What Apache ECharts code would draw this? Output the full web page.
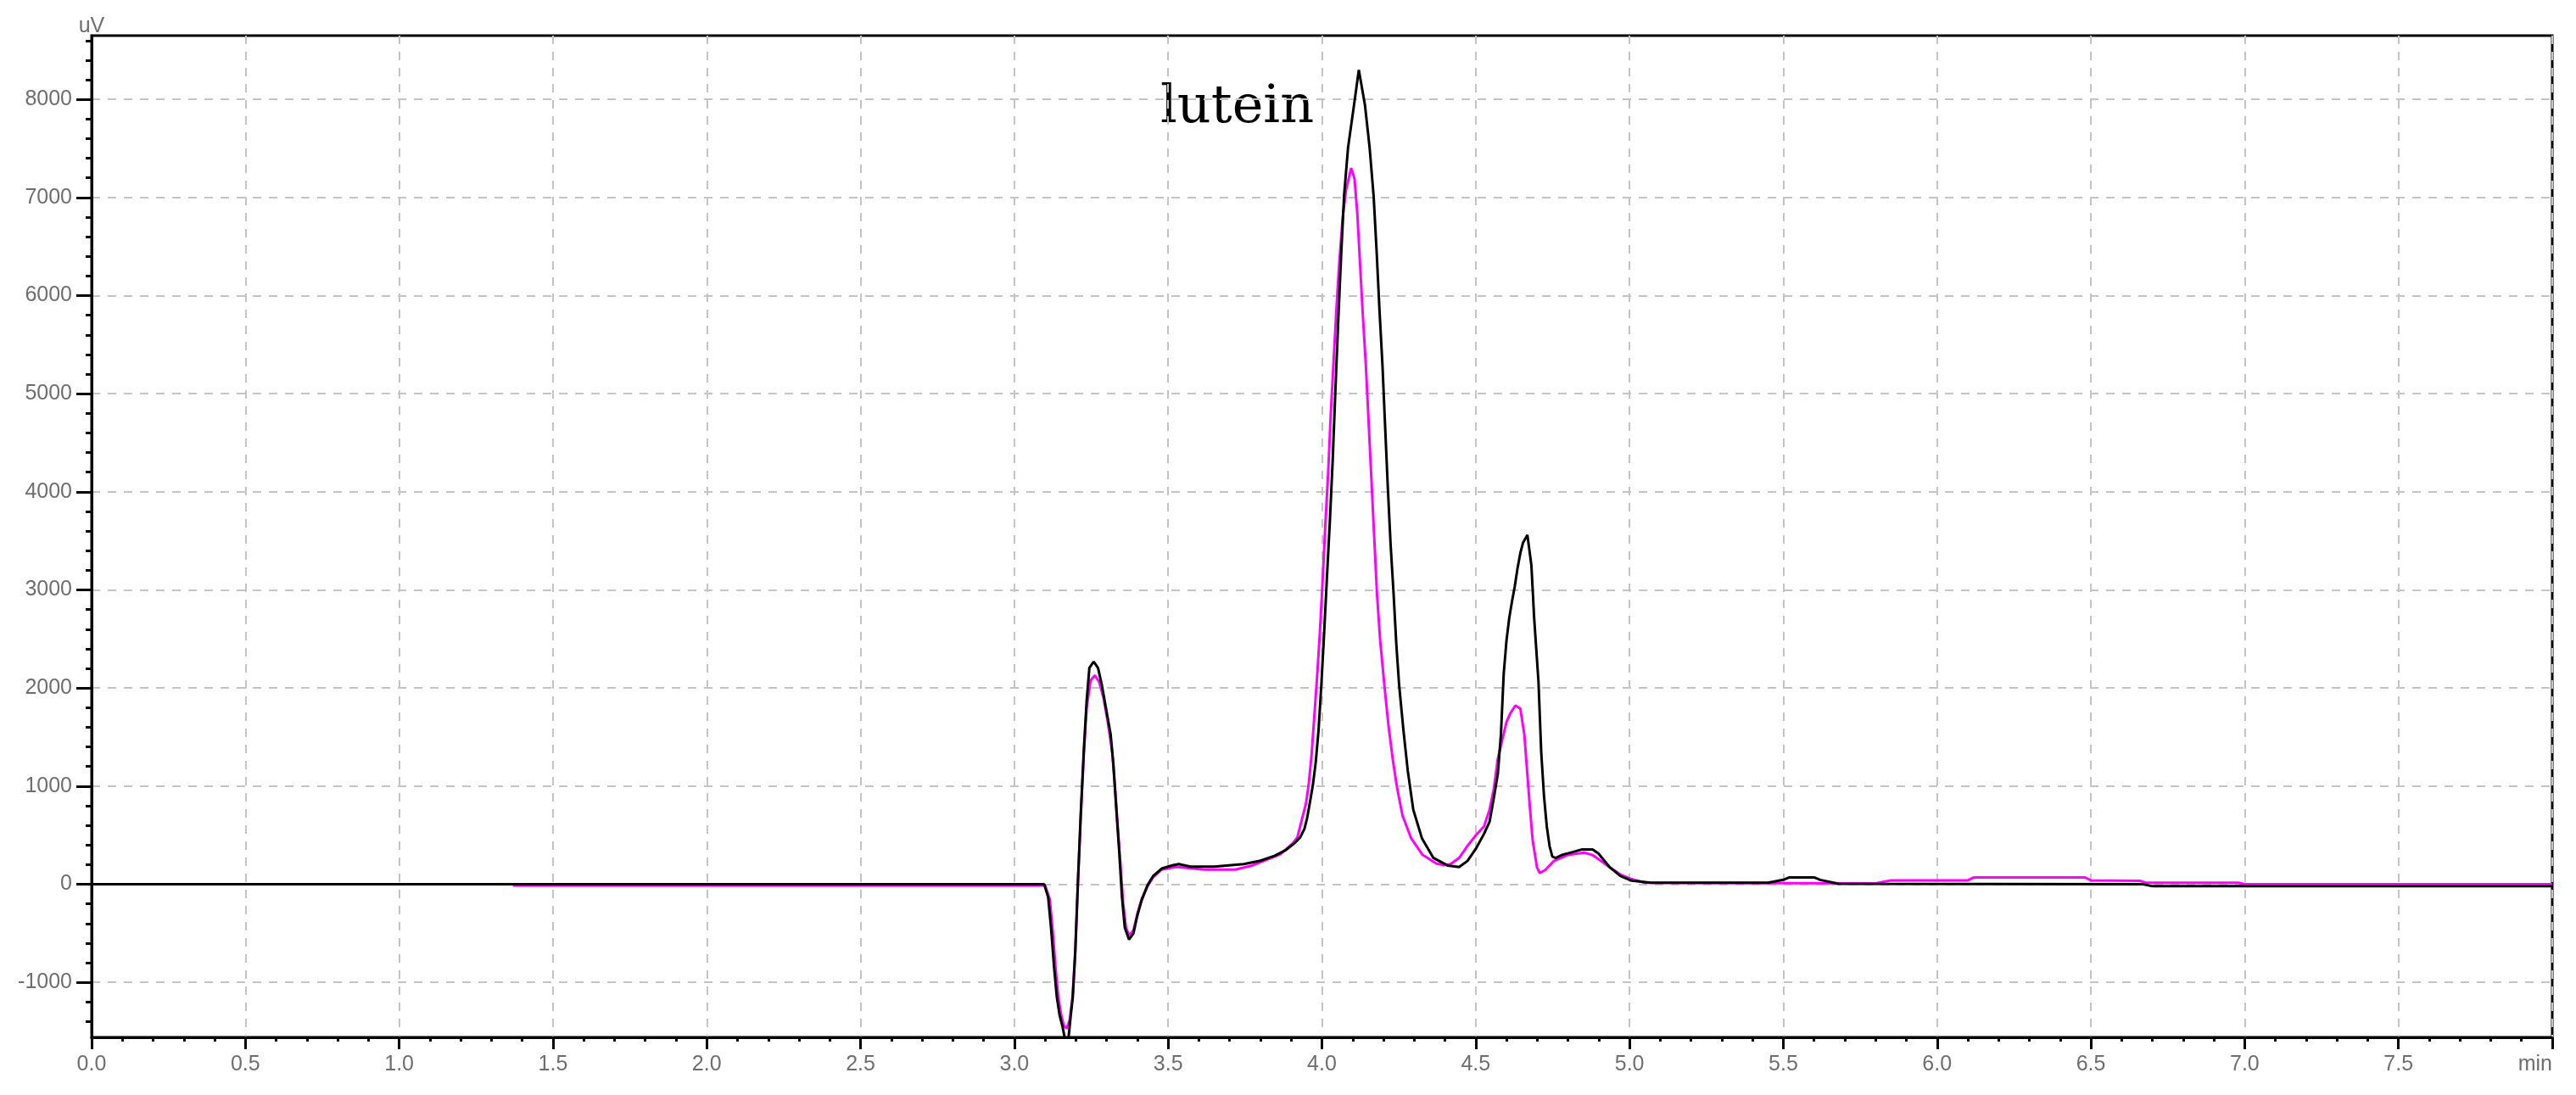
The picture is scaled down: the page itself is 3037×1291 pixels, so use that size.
<!DOCTYPE html>
<html>
<head>
<meta charset="utf-8">
<script src="https://cdn.jsdelivr.net/npm/echarts@6/dist/echarts.min.js"></script>
<style>
    html, body { margin: 0; padding: 0; background: #fff; }
    #chart { width: 3037px; height: 1291px; }
</style>
</head>
<body>
<div id="chart"></div>
<script>
// 黑色曲线（时间 min / 信号 uV）
const blackTime = [0, 3.097, 3.110, 3.120, 3.129, 3.138, 3.147, 3.157, 3.166, 3.175, 3.183, 3.190, 3.198, 3.207, 3.216, 3.226, 3.235, 3.244, 3.258, 3.272, 3.285, 3.299, 3.313, 3.322, 3.331, 3.341, 3.350, 3.359, 3.373, 3.387, 3.400, 3.414, 3.433, 3.451, 3.479, 3.516, 3.535, 3.572, 3.650, 3.746, 3.800, 3.847, 3.883, 3.911, 3.929, 3.943, 3.952, 3.961, 3.971, 3.980, 3.989, 3.998, 4.007, 4.016, 4.026, 4.035, 4.044, 4.053, 4.062, 4.072, 4.085, 4.102, 4.120, 4.140, 4.155, 4.168, 4.178, 4.187, 4.197, 4.205, 4.214, 4.223, 4.233, 4.242, 4.251, 4.265, 4.279, 4.297, 4.325, 4.362, 4.410, 4.446, 4.473, 4.500, 4.527, 4.545, 4.559, 4.572, 4.582, 4.591, 4.600, 4.609, 4.618, 4.627, 4.636, 4.645, 4.654, 4.668, 4.681, 4.690, 4.704, 4.713, 4.722, 4.731, 4.740, 4.749, 4.760, 4.781, 4.817, 4.844, 4.880, 4.899, 4.935, 4.971, 5.007, 5.07, 5.45, 5.50, 5.52, 5.60, 5.62, 5.68, 6.67, 6.70, 8.0];
const blackValue = [0, 0, -132, -470, -840, -1148, -1332, -1455, -1600, -1600, -1350, -1150, -686, 52, 729, 1375, 1868, 2206, 2268, 2206, 2022, 1775, 1529, 1222, 791, 329, -132, -440, -563, -502, -317, -163, -9, 83, 160, 195, 205, 180, 180, 205, 240, 291, 349, 420, 477, 563, 677, 834, 1020, 1249, 1570, 2030, 2550, 3110, 3710, 4320, 5050, 5740, 6380, 7020, 7510, 7890, 8300, 7940, 7510, 7020, 6440, 5860, 5280, 4700, 4060, 3480, 2960, 2440, 2030, 1570, 1160, 760, 470, 270, 190, 175, 237, 360, 514, 637, 883, 1129, 1529, 2145, 2483, 2714, 2883, 3037, 3222, 3375, 3483, 3560, 3252, 2714, 2068, 1345, 898, 591, 391, 283, 268, 300, 330, 354, 354, 314, 175, 83, 37, 15, 15, 45, 70, 70, 45, 5, 0, -20, -20];

// 品红色曲线
const pinkTime = [1.37, 3.100, 3.115, 3.125, 3.134, 3.143, 3.152, 3.161, 3.170, 3.180, 3.189, 3.198, 3.207, 3.216, 3.226, 3.235, 3.248, 3.262, 3.276, 3.290, 3.304, 3.318, 3.327, 3.336, 3.345, 3.354, 3.363, 3.373, 3.387, 3.400, 3.414, 3.433, 3.451, 3.479, 3.526, 3.617, 3.718, 3.773, 3.819, 3.865, 3.906, 3.920, 3.934, 3.948, 3.957, 3.966, 3.975, 3.984, 3.993, 4.002, 4.011, 4.020, 4.029, 4.038, 4.047, 4.056, 4.067, 4.078, 4.095, 4.106, 4.115, 4.124, 4.133, 4.143, 4.152, 4.161, 4.170, 4.179, 4.189, 4.203, 4.216, 4.230, 4.244, 4.262, 4.290, 4.327, 4.373, 4.400, 4.418, 4.446, 4.473, 4.500, 4.527, 4.545, 4.559, 4.572, 4.586, 4.600, 4.613, 4.629, 4.645, 4.658, 4.667, 4.676, 4.685, 4.699, 4.708, 4.726, 4.754, 4.799, 4.853, 4.880, 4.935, 4.971, 5.007, 5.05, 5.80, 5.85, 6.10, 6.12, 6.48, 6.50, 6.66, 6.68, 6.98, 7.00, 8.0];
const pinkValue = [-12, -12, -150, -480, -850, -1150, -1330, -1440, -1470, -1380, -1150, -700, 20, 690, 1330, 1800, 2080, 2130, 2060, 1900, 1650, 1350, 1000, 600, 200, -200, -440, -520, -470, -300, -150, -20, 70, 150, 177, 149, 149, 191, 249, 306, 420, 477, 649, 820, 1020, 1306, 1700, 2100, 2550, 3080, 3660, 4180, 4810, 5340, 5860, 6320, 6780, 7070, 7300, 7190, 6840, 6320, 5800, 5280, 4700, 4120, 3540, 2960, 2500, 2030, 1630, 1280, 990, 700, 470, 300, 210, 195, 206, 268, 391, 498, 591, 760, 975, 1283, 1468, 1652, 1745, 1822, 1791, 1529, 1160, 791, 452, 175, 114, 145, 237, 298, 323, 298, 175, 98, 52, 15, 10, 40, 40, 70, 70, 40, 35, 15, 15, 0, 0];

// 刻度
const yMajorTicks = [-1000, 0, 1000, 2000, 3000, 4000, 5000, 6000, 7000, 8000];
const yMinorTicks = [-1400, -1200, -800, -600, -400, -200, 200, 400, 600, 800, 1200, 1400, 1600, 1800, 2200, 2400, 2600, 2800, 3200, 3400, 3600, 3800, 4200, 4400, 4600, 4800, 5200, 5400, 5600, 5800, 6200, 6400, 6600, 6800, 7200, 7400, 7600, 7800, 8200, 8400, 8600];
const peakName = 'lutein';

function toPairs(xs, ys) {
    let arr = [];
    for (let i = 0; i < xs.length; i++) {
        arr.push([xs[i], ys[i]]);
    }
    return arr;
}

let myChart = echarts.init(document.getElementById('chart'));

const labelStyle = {
    color: '#6e6e6e',
    fontFamily: 'Liberation Sans',
    fontSize: 25
};
const gridLine = {
    show: true,
    lineStyle: { color: '#c4c4c4', width: 2, type: [10, 9] }
};

let option = {
    animation: false,
    backgroundColor: '#fff',
    grid: {
        left: 108, right: 28, top: 42, bottom: 68,
        show: true, borderColor: '#000', borderWidth: 3
    },
    xAxis: {
        type: 'value',
        min: 0, max: 8, interval: 0.5,
        axisLine: { show: true, onZero: false, lineStyle: { color: '#000', width: 3 } },
        axisTick: { show: true, length: 14, lineStyle: { color: '#000', width: 3 } },
        minorTick: { show: true, splitNumber: 5, length: 5, lineStyle: { color: '#000', width: 3 } },
        axisLabel: Object.assign({
            margin: 20,
            alignMaxLabel: 'right',
            formatter: function (v) { return v === 8 ? 'min' : v.toFixed(1); }
        }, labelStyle),
        splitLine: gridLine
    },
    yAxis: [{
        type: 'value',
        min: -1560, max: 8650, splitNumber: 10,
        name: 'uV', nameLocation: 'end', nameGap: -2,
        nameTextStyle: labelStyle,
        axisLine: { show: true, onZero: false, lineStyle: { color: '#000', width: 3 } },
        axisTick: { show: true, length: 18, customValues: yMajorTicks, lineStyle: { color: '#000', width: 3 } },
        axisLabel: Object.assign({
            margin: 23,
            customValues: yMajorTicks,
            formatter: function (v) { return String(v); }
        }, labelStyle),
        splitLine: gridLine
    }, {
        type: 'value',
        position: 'left',
        min: -1560, max: 8650, splitNumber: 10,
        axisLine: { show: false, onZero: false },
        axisTick: { show: true, length: 7, customValues: yMinorTicks, lineStyle: { color: '#000', width: 3 } },
        axisLabel: { show: false },
        splitLine: { show: false }
    }],
    graphic: [{
        type: 'text',
        left: 1368,
        top: 97,
        style: {
            text: peakName,
            font: '62px "DejaVu Serif"',
            fill: '#000'
        }
    }],
    series: [{
        name: 'pink',
        type: 'line',
        data: toPairs(pinkTime, pinkValue),
        showSymbol: false,
        symbol: 'none',
        lineStyle: { color: '#ff00ff', width: 3 },
        clip: true
    }, {
        name: 'black',
        type: 'line',
        data: toPairs(blackTime, blackValue),
        showSymbol: false,
        symbol: 'none',
        lineStyle: { color: '#000', width: 3 },
        clip: true
    }]
};

myChart.setOption(option);
</script>
</body>
</html>
